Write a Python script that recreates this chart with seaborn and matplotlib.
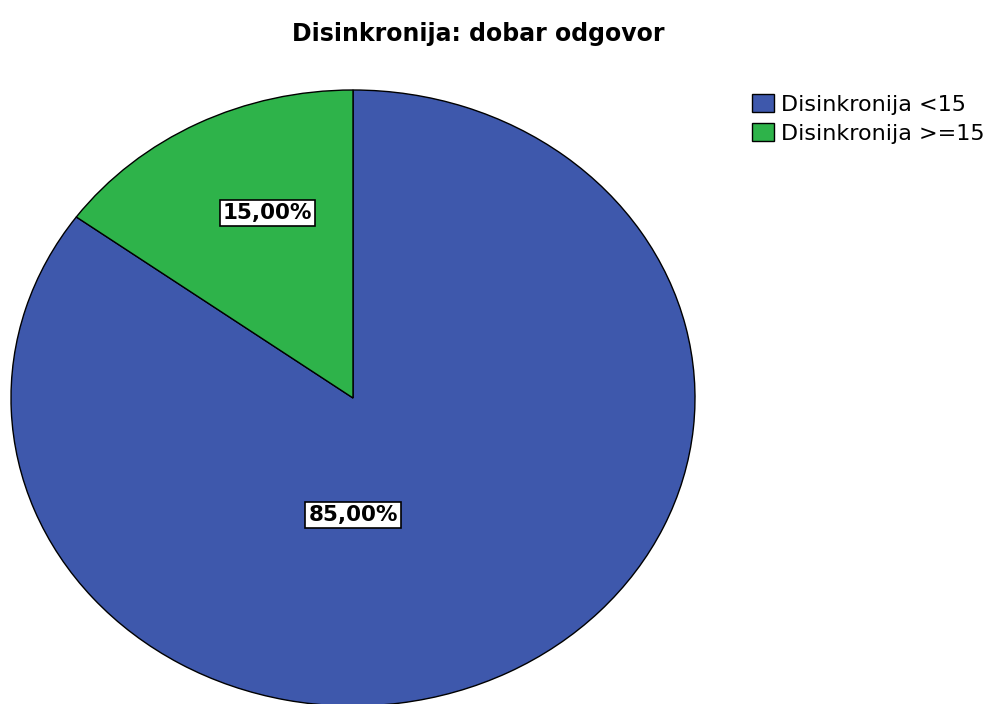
import matplotlib
matplotlib.use("Agg")
import matplotlib.pyplot as plt
import seaborn as sns

categories = ["Disinkronija <15", "Disinkronija >=15"]
values = [85.0, 15.0]
title = "Disinkronija: dobar odgovor"

sns.set_theme(style="white")
plt.rcParams['font.family'] = ['DejaVu Sans']
plt.rcParams['text.color'] = 'black'

colors = ["#3E58AC", "#2EB34A"]

W, H = 993, 704
fig = plt.figure(figsize=(W / 100, H / 100), dpi=100)
cx, cy, rx, ry = 353, 398, 342, 308
ax = fig.add_axes([(cx - rx) / W, (H - (cy + ry)) / H, 2 * rx / W, 2 * ry / H])

wedges, _ = ax.pie(values, colors=colors, startangle=90, counterclock=False,
                   wedgeprops=dict(edgecolor="black", linewidth=1.0))
ax.set_aspect("auto")
ax.set_xlim(-1, 1)
ax.set_ylim(-1, 1)
ax.axis("off")
for w in wedges:
    w.set_clip_on(False)

label_pos = [(0.0, -0.38), (-0.25, 0.60)]
for v, (x, y) in zip(values, label_pos):
    ax.text(x, y, f"{v:.2f}%".replace(".", ","), ha="center", va="center",
            fontsize=15.5, fontweight="bold", color="black",
            bbox=dict(boxstyle="square,pad=0.15", facecolor="white",
                      edgecolor="black", linewidth=1.2))

fig.text(478 / W, 1 - 34 / H, title, ha="center", va="center",
         fontsize=17, fontweight="bold", color="black")

leg = fig.legend(wedges, categories, loc="upper left",
                 bbox_to_anchor=(752 / W, 1 - 94 / H), frameon=False,
                 fontsize=16, handlelength=1.0, handleheight=0.9,
                 handletextpad=0.3, labelspacing=0.35, borderpad=0,
                 borderaxespad=0)
for t in leg.get_texts():
    t.set_color("black")

fig.savefig("out.png", dpi=100)
